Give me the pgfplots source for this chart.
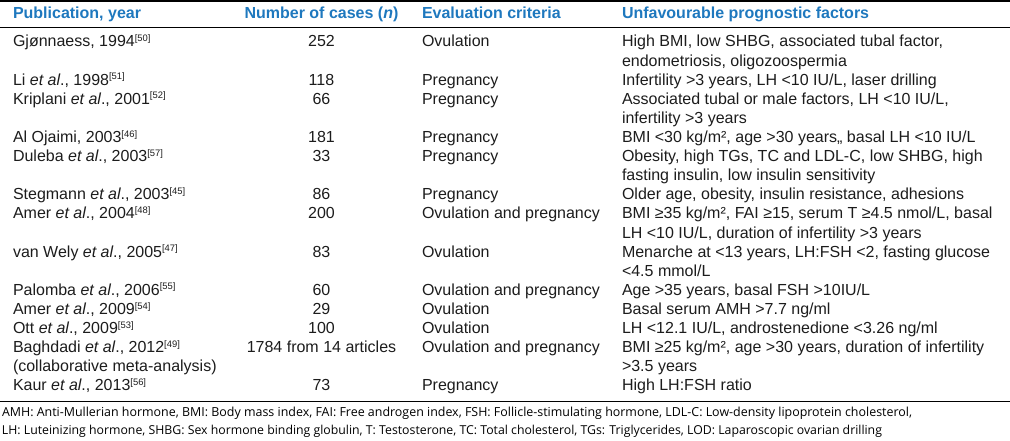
\documentclass[border=0pt]{standalone}
\usepackage{pgfplots}
\pgfplotsset{compat=1.18}
\usepackage{fontspec}
\setmainfont{Liberation Sans}
\newfontfamily\fnfont{Open Sans}
\definecolor{hdr}{RGB}{30,120,190}
\definecolor{txt}{RGB}{28,28,28}
\newcommand{\sref}[1]{\raisebox{5.4bp}{\fontsize{9.4bp}{10bp}\selectfont[#1]}}
\newcommand{\etal}{\textit{et al}.}
\newcommand{\fn}{\fnfont\fontsize{12.4bp}{14bp}\selectfont}
\begin{document}
\fontsize{16bp}{19bp}\selectfont
\begin{tikzpicture}[font=\fontsize{16bp}{19bp}\selectfont, every node/.style={inner sep=0pt, outer sep=0pt, text=txt}]
\begin{axis}[
  at={(0,0)}, anchor=south west,
  width=1010bp, height=441bp, scale only axis,
  xmin=0, xmax=1010, ymin=0, ymax=441, y dir=reverse,
  axis lines=none, clip=false,
]
% rules
\draw[line width=1.6bp, black] (axis cs:0,1) -- (axis cs:1010,1);
\draw[line width=1.1bp, black] (axis cs:0,27.5) -- (axis cs:1010,27.5);
\draw[line width=1.1bp, black] (axis cs:0,401.5) -- (axis cs:1010,401.5);
% header
\node[anchor=base west, text=hdr] at (axis cs:13,18.5) {\bfseries Publication, year};
\node[anchor=base, text=hdr] at (axis cs:321.5,18.5) {\bfseries Number of cases (\textit{n})};
\node[anchor=base west, text=hdr] at (axis cs:422,18.5) {\bfseries Evaluation criteria};
\node[anchor=base west, text=hdr] at (axis cs:622,18.5) {\bfseries Unfavourable prognostic factors};
% column 1
\node[anchor=base west] at (axis cs:13,47) {Gjønnaess, 1994\sref{50}};
\node[anchor=base west] at (axis cs:13,85.2) {Li \etal, 1998\sref{51}};
\node[anchor=base west] at (axis cs:13,104.3) {Kriplani \etal, 2001\sref{52}};
\node[anchor=base west] at (axis cs:13,142.5) {Al Ojaimi, 2003\sref{46}};
\node[anchor=base west] at (axis cs:13,161.6) {Duleba \etal, 2003\sref{57}};
\node[anchor=base west] at (axis cs:13,199.8) {Stegmann \etal, 2003\sref{45}};
\node[anchor=base west] at (axis cs:13,218.9) {Amer \etal, 2004\sref{48}};
\node[anchor=base west] at (axis cs:13,257.1) {van Wely \etal, 2005\sref{47}};
\node[anchor=base west] at (axis cs:13,295.3) {Palomba \etal, 2006\sref{55}};
\node[anchor=base west] at (axis cs:13,314.4) {Amer \etal, 2009\sref{54}};
\node[anchor=base west] at (axis cs:13,333.5) {Ott \etal, 2009\sref{53}};
\node[anchor=base west] at (axis cs:13,352.6) {Baghdadi \etal, 2012\sref{49}};
\node[anchor=base west] at (axis cs:13,371.7) {(collaborative meta-analysis)};
\node[anchor=base west] at (axis cs:13,390.8) {Kaur \etal, 2013\sref{56}};
% column 2
\node[anchor=base] at (axis cs:321.5,47) {252};
\node[anchor=base] at (axis cs:321.5,85.2) {118};
\node[anchor=base] at (axis cs:321.5,104.3) {66};
\node[anchor=base] at (axis cs:321.5,142.5) {181};
\node[anchor=base] at (axis cs:321.5,161.6) {33};
\node[anchor=base] at (axis cs:321.5,199.8) {86};
\node[anchor=base] at (axis cs:321.5,218.9) {200};
\node[anchor=base] at (axis cs:321.5,257.1) {83};
\node[anchor=base] at (axis cs:321.5,295.3) {60};
\node[anchor=base] at (axis cs:321.5,314.4) {29};
\node[anchor=base] at (axis cs:321.5,333.5) {100};
\node[anchor=base] at (axis cs:321.5,352.6) {1784 from 14 articles};
\node[anchor=base] at (axis cs:321.5,390.8) {73};
% column 3
\node[anchor=base west] at (axis cs:422,47) {Ovulation};
\node[anchor=base west] at (axis cs:422,85.2) {Pregnancy};
\node[anchor=base west] at (axis cs:422,104.3) {Pregnancy};
\node[anchor=base west] at (axis cs:422,142.5) {Pregnancy};
\node[anchor=base west] at (axis cs:422,161.6) {Pregnancy};
\node[anchor=base west] at (axis cs:422,199.8) {Pregnancy};
\node[anchor=base west] at (axis cs:422,218.9) {Ovulation and pregnancy};
\node[anchor=base west] at (axis cs:422,257.1) {Ovulation};
\node[anchor=base west] at (axis cs:422,295.3) {Ovulation and pregnancy};
\node[anchor=base west] at (axis cs:422,314.4) {Ovulation};
\node[anchor=base west] at (axis cs:422,333.5) {Ovulation};
\node[anchor=base west] at (axis cs:422,352.6) {Ovulation and pregnancy};
\node[anchor=base west] at (axis cs:422,390.8) {Pregnancy};
% column 4
\node[anchor=base west] at (axis cs:622,47) {High BMI, low SHBG, associated tubal factor,};
\node[anchor=base west] at (axis cs:622,66.1) {endometriosis, oligozoospermia};
\node[anchor=base west] at (axis cs:622,85.2) {Infertility >3 years, LH <10 IU/L, laser drilling};
\node[anchor=base west] at (axis cs:622,104.3) {Associated tubal or male factors, LH <10 IU/L,};
\node[anchor=base west] at (axis cs:622,123.4) {infertility >3 years};
\node[anchor=base west] at (axis cs:622,142.5) {BMI <30 kg/m², age >30 years,, basal LH <10 IU/L};
\node[anchor=base west] at (axis cs:622,161.6) {Obesity, high TGs, TC and LDL-C, low SHBG, high};
\node[anchor=base west] at (axis cs:622,180.7) {fasting insulin, low insulin sensitivity};
\node[anchor=base west] at (axis cs:622,199.8) {Older age, obesity, insulin resistance, adhesions};
\node[anchor=base west] at (axis cs:622,218.9) {BMI ≥35 kg/m², FAI ≥15, serum T ≥4.5 nmol/L, basal};
\node[anchor=base west] at (axis cs:622,238) {LH <10 IU/L, duration of infertility >3 years};
\node[anchor=base west] at (axis cs:622,257.1) {Menarche at <13 years, LH:FSH <2, fasting glucose};
\node[anchor=base west] at (axis cs:622,276.2) {<4.5 mmol/L};
\node[anchor=base west] at (axis cs:622,295.3) {Age >35 years, basal FSH >10IU/L};
\node[anchor=base west] at (axis cs:622,314.4) {Basal serum AMH >7.7 ng/ml};
\node[anchor=base west] at (axis cs:622,333.5) {LH <12.1 IU/L, androstenedione <3.26 ng/ml};
\node[anchor=base west] at (axis cs:622,352.6) {BMI ≥25 kg/m², age >30 years, duration of infertility};
\node[anchor=base west] at (axis cs:622,371.7) {>3.5 years};
\node[anchor=base west] at (axis cs:622,390.8) {High LH:FSH ratio};
% footnote
\node[anchor=base west, text=black] at (axis cs:2,416.5) {\resizebox{910bp}{!}{\fn AMH: Anti-Mullerian hormone, BMI: Body mass index, FAI: Free androgen index, FSH: Follicle-stimulating hormone, LDL-C: Low-density lipoprotein cholesterol,}};
\node[anchor=base west, text=black] at (axis cs:2,434.5) {\resizebox{880bp}{!}{\fn LH: Luteinizing hormone, SHBG: Sex hormone binding globulin, T: Testosterone, TC: Total cholesterol, TGs: Triglycerides, LOD: Laparoscopic ovarian drilling}};
\end{axis}
\pgfresetboundingbox
\useasboundingbox (0,0) rectangle (1010bp,441bp);
\end{tikzpicture}
\end{document}
